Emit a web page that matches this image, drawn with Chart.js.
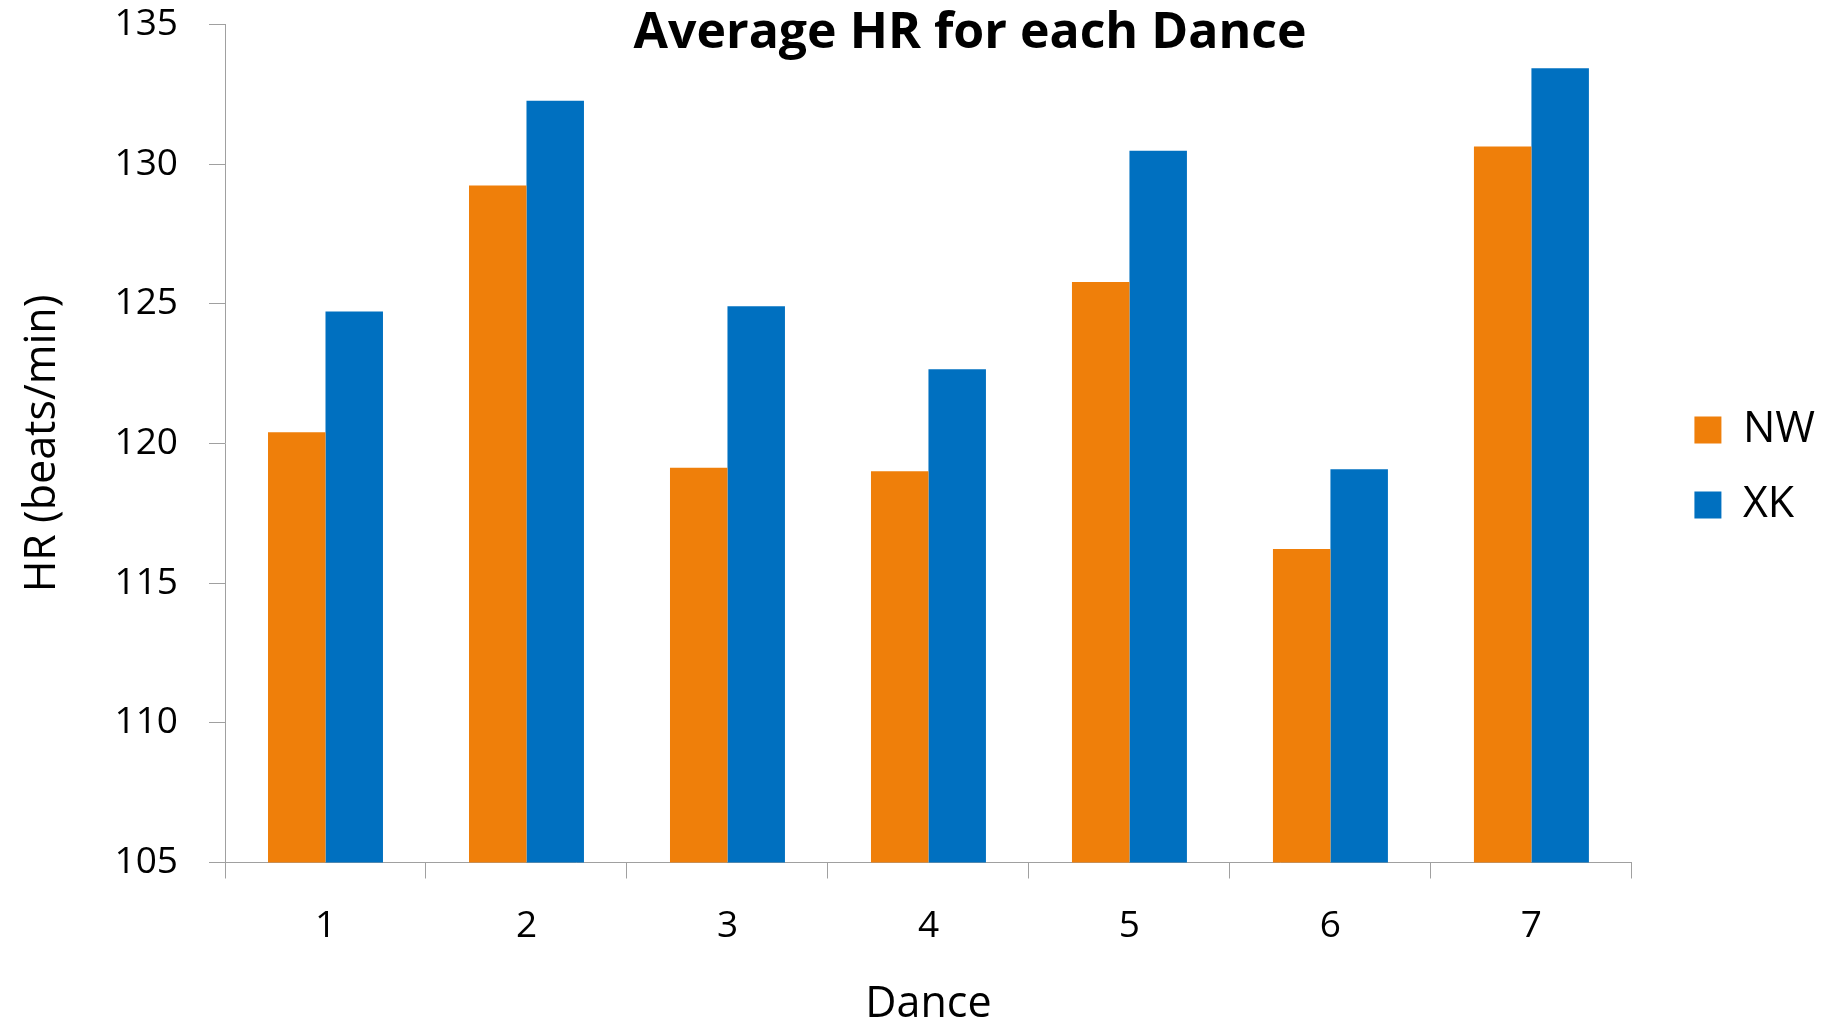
<!DOCTYPE html>
<html>
<head>
<meta charset="utf-8">
<title>Average HR for each Dance</title>
<script src="https://cdn.jsdelivr.net/npm/chart.js@4/dist/chart.umd.min.js"></script>
<style>
  html, body { margin: 0; padding: 0; background: #ffffff; }
  #wrap { width: 1826px; height: 1026px; position: relative; }
</style>
</head>
<body>
<div id="wrap"><canvas id="chart" width="1826" height="1026"></canvas></div>
<script>
// Dance numbers along the x axis
const dances = ['1', '2', '3', '4', '5', '6', '7'];
// Average heart rate (beats/min) per dance for each dancer
const nwValues = [120.4, 129.24, 119.13, 119.01, 125.78, 116.22, 130.63];
const xkValues = [124.73, 132.27, 124.91, 122.66, 130.48, 119.08, 133.43];
// Series names
const seriesNames = ['NW', 'XK'];
// Value axis range
const yMin = 105;
const yMax = 135;
const yStep = 5;

const FONT = '"Open Sans", "DejaVu Sans", sans-serif';
const AXIS_GREY = '#a0a0a0';

// Chart heading, drawn centred above the plot
const headingPlugin = {
  id: 'heading',
  afterDraw(chart, args, opts) {
    const ctx = chart.ctx;
    ctx.save();
    ctx.font = 'bold 50px ' + FONT;
    ctx.fillStyle = '#000000';
    ctx.textAlign = 'center';
    ctx.textBaseline = 'alphabetic';
    ctx.fillText(opts.text, opts.x, opts.y);
    ctx.restore();
  }
};

new Chart(document.getElementById('chart'), {
  type: 'bar',
  data: {
    labels: dances,
    datasets: [
      { label: seriesNames[0], data: nwValues, backgroundColor: '#ef7f0a', borderWidth: 0 },
      { label: seriesNames[1], data: xkValues, backgroundColor: '#0070c0', borderWidth: 0 }
    ]
  },
  options: {
    responsive: false,
    animation: false,
    devicePixelRatio: 1,
    categoryPercentage: 0.572,
    barPercentage: 1.0,
    layout: { padding: { left: 0, right: 1, top: 24.5, bottom: 0 } },
    plugins: {
      heading: { text: 'Average HR for each Dance', x: 970, y: 48 },
      tooltip: { enabled: false },
      legend: {
        position: 'right',
        align: 'center',
        fullSize: false,
        title: { display: true, text: ' ', font: { size: 1 }, padding: { top: 47, bottom: 0 } },
        labels: {
          boxWidth: 27,
          boxHeight: 27,
          padding: 32,
          color: '#000000',
          font: { family: FONT, size: 43 }
        }
      }
    },
    scales: {
      x: {
        grid: {
          display: true,
          offset: true,
          drawOnChartArea: false,
          drawTicks: true,
          tickLength: 16,
          color: AXIS_GREY,
          lineWidth: 1
        },
        border: { display: true, color: AXIS_GREY, width: 1 },
        ticks: {
          color: '#000000',
          font: { family: FONT, size: 37 },
          padding: 26,
          maxRotation: 0
        },
        title: {
          display: true,
          text: 'Dance',
          color: '#000000',
          font: { family: FONT, size: 43, lineHeight: 1 },
          padding: { top: 0, bottom: 0 }
        },
        afterFit(scale) { scale.height = 163.5; }
      },
      y: {
        min: yMin,
        max: yMax,
        grid: {
          display: true,
          drawOnChartArea: false,
          drawTicks: true,
          tickLength: 16,
          color: AXIS_GREY,
          lineWidth: 1
        },
        border: { display: true, color: AXIS_GREY, width: 1 },
        ticks: {
          stepSize: yStep,
          color: '#000000',
          font: { family: FONT, size: 37 },
          padding: 31
        },
        title: {
          display: true,
          text: 'HR (beats/min)',
          color: '#000000',
          font: { family: FONT, size: 43, lineHeight: 1 },
          padding: { top: 21, bottom: 0 }
        },
        afterFit(scale) {
          scale.width = 225;
          // labels only need half their height above/below the end ticks
          scale.paddingTop = 22;
          scale.paddingBottom = 22;
        }
      },
      gap: {
        type: 'linear',
        position: 'right',
        display: true,
        grid: { display: false },
        border: { display: false },
        ticks: { display: false },
        afterFit(scale) { scale.width = 30.5; }
      }
    }
  },
  plugins: [headingPlugin]
});
</script>
</body>
</html>
